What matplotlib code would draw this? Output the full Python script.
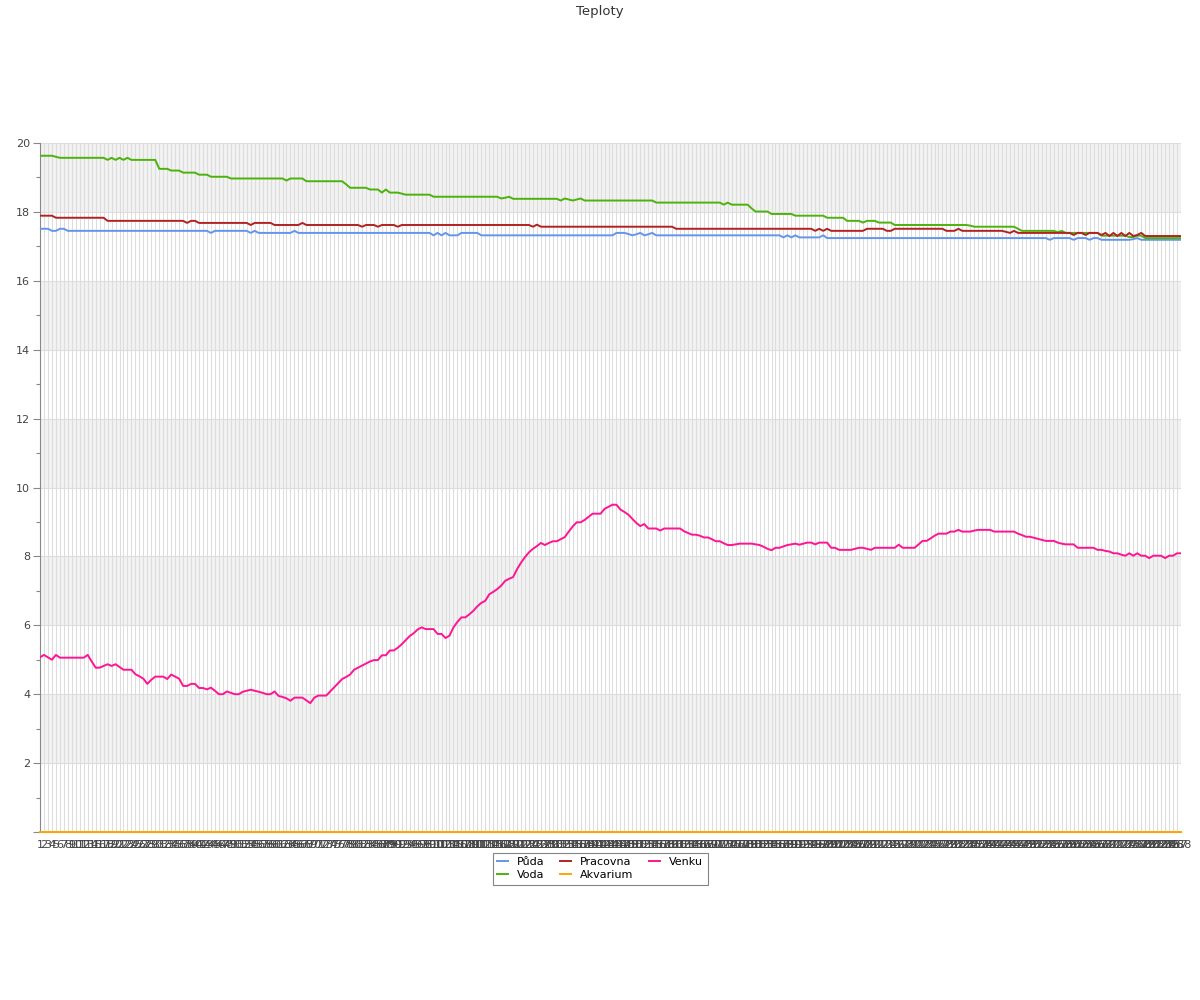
import numpy as np
import matplotlib.pyplot as plt

plt.rcParams['font.family'] = ['DejaVu Sans']

# poradi mereni 1..288
labels = [str(i) for i in range(1, 289)]

# Puda - hodnota a pocet opakovani
puda_vals = [17.51, 17.45, 17.51, 17.45, 17.39, 17.45, 17.39, 17.45, 17.39, 17.45, 17.39,
             17.32, 17.39, 17.32, 17.39, 17.32, 17.39, 17.32, 17.39, 17.36, 17.32, 17.35,
             17.39, 17.32, 17.35, 17.39, 17.32, 17.26, 17.32, 17.26, 17.32, 17.26, 17.32,
             17.24, 17.19, 17.24, 17.19, 17.24, 17.19, 17.24, 17.19, 17.21, 17.24, 17.19]
puda_runs = [3, 2, 2, 36, 1, 9, 1, 1, 9, 1, 34,
             1, 1, 1, 1, 3, 5, 34, 3, 1, 1, 1,
             1, 1, 1, 1, 32, 1, 1, 1, 1, 6, 1,
             56, 1, 5, 1, 3, 1, 2, 8, 1, 1, 11]

# Voda
voda_vals = [19.63, 19.6, 19.57, 19.51, 19.57, 19.51, 19.57, 19.51, 19.57, 19.51,
             19.25, 19.2, 19.14, 19.08, 19.02, 18.97, 18.91, 18.97, 18.89, 18.8,
             18.7, 18.65, 18.56, 18.65, 18.56, 18.53, 18.5, 18.44, 18.39, 18.41,
             18.44, 18.38, 18.33, 18.39, 18.36, 18.33, 18.36, 18.39, 18.33, 18.27,
             18.21, 18.27, 18.21, 18.1, 18.01, 17.94, 17.89, 17.83, 17.74, 17.69,
             17.74, 17.69, 17.62, 17.6, 17.57, 17.51, 17.45, 17.41, 17.45, 17.39,
             17.31, 17.27, 17.31, 17.24]
voda_runs = [4, 1, 12, 1, 1, 1, 1, 1, 1, 7,
             3, 3, 4, 3, 5, 14, 1, 4, 10, 1,
             5, 3, 1, 1, 3, 1, 7, 17, 1, 1,
             1, 12, 1, 1, 1, 1, 1, 1, 18, 17,
             1, 1, 5, 1, 4, 6, 8, 5, 4, 1,
             3, 4, 19, 1, 11, 1, 9, 1, 1, 9,
             7, 2, 2, 10]

# Pracovna
pracovna_vals = [17.89, 17.83, 17.74, 17.68, 17.74, 17.68, 17.62, 17.68, 17.62, 17.68,
                 17.62, 17.57, 17.62, 17.57, 17.62, 17.57, 17.62, 17.57, 17.63, 17.57,
                 17.51, 17.45, 17.51, 17.45, 17.51, 17.45, 17.51, 17.45, 17.51, 17.45,
                 17.51, 17.45, 17.42, 17.39, 17.45, 17.39, 17.33, 17.39, 17.33, 17.39,
                 17.33, 17.39, 17.3, 17.39, 17.3, 17.39, 17.3, 17.39, 17.3, 17.33,
                 17.39, 17.3]
pracovna_runs = [4, 13, 20, 1, 2, 13, 1, 5, 7, 1,
                 14, 1, 3, 1, 4, 1, 33, 1, 1, 34,
                 35, 1, 1, 1, 1, 9, 5, 2, 13, 3,
                 1, 11, 1, 1, 1, 14, 1, 2, 1, 3,
                 1, 1, 1, 1, 1, 1, 1, 1, 1, 1,
                 1, 10]

# Akvarium - cidlo posilalo nuly
akvarium = [0.0] * 288

# Venku
venku = [5.07, 5.14, 5.07, 5.0, 5.14, 5.06, 5.06, 5.06, 5.06, 5.06, 5.06, 5.06,
         5.14, 4.95, 4.77, 4.77, 4.82, 4.87, 4.82, 4.87, 4.79, 4.71, 4.71, 4.71,
         4.58, 4.52, 4.45, 4.3, 4.42, 4.51, 4.51, 4.51, 4.44, 4.57, 4.51, 4.45,
         4.24, 4.24, 4.3, 4.3, 4.18, 4.18, 4.14, 4.19, 4.1, 4.0, 4.0, 4.08,
         4.04, 4.0, 4.0, 4.07, 4.1, 4.13, 4.1, 4.07, 4.04, 4.0, 4.0, 4.08,
         3.95, 3.92, 3.88, 3.81, 3.9, 3.9, 3.9, 3.82, 3.74, 3.9, 3.96, 3.96,
         3.96, 4.08, 4.2, 4.32, 4.44, 4.5, 4.57, 4.71, 4.77, 4.83, 4.89, 4.95,
         4.99, 4.99, 5.13, 5.13, 5.27, 5.27, 5.35, 5.45, 5.57, 5.69, 5.77, 5.88,
         5.94, 5.89, 5.89, 5.89, 5.75, 5.75, 5.63, 5.7, 5.94, 6.1, 6.23, 6.23,
         6.32, 6.42, 6.55, 6.65, 6.71, 6.9, 6.97, 7.05, 7.15, 7.29, 7.35, 7.4,
         7.63, 7.82, 7.98, 8.12, 8.22, 8.3, 8.39, 8.33, 8.39, 8.44, 8.44, 8.5,
         8.56, 8.72, 8.87, 8.99, 8.99, 9.06, 9.15, 9.24, 9.24, 9.24, 9.38, 9.44,
         9.5, 9.5, 9.36, 9.29, 9.21, 9.09, 8.97, 8.88, 8.94, 8.81, 8.81, 8.81,
         8.75, 8.81, 8.81, 8.81, 8.81, 8.81, 8.73, 8.68, 8.63, 8.63, 8.6, 8.55,
         8.55, 8.5, 8.44, 8.44, 8.38, 8.33, 8.33, 8.35, 8.37, 8.37, 8.37, 8.37,
         8.35, 8.33, 8.28, 8.22, 8.18, 8.25, 8.25, 8.29, 8.33, 8.35, 8.37, 8.34,
         8.37, 8.4, 8.4, 8.35, 8.4, 8.4, 8.4, 8.25, 8.25, 8.19, 8.19, 8.19,
         8.19, 8.22, 8.25, 8.25, 8.22, 8.19, 8.25, 8.25, 8.25, 8.25, 8.25, 8.25,
         8.34, 8.25, 8.25, 8.25, 8.25, 8.35, 8.45, 8.45, 8.52, 8.6, 8.66, 8.66,
         8.66, 8.72, 8.72, 8.77, 8.72, 8.72, 8.72, 8.75, 8.77, 8.77, 8.77, 8.77,
         8.72, 8.72, 8.72, 8.72, 8.72, 8.72, 8.66, 8.62, 8.57, 8.57, 8.54, 8.51,
         8.48, 8.45, 8.45, 8.45, 8.4, 8.37, 8.35, 8.35, 8.35, 8.25, 8.25, 8.25,
         8.25, 8.25, 8.19, 8.19, 8.16, 8.14, 8.09, 8.09, 8.05, 8.02, 8.09, 8.02,
         8.09, 8.02, 8.02, 7.95, 8.02, 8.02, 8.02, 7.95, 8.02, 8.02, 8.09, 8.09]

puda = np.repeat(puda_vals, puda_runs)
voda = np.repeat(voda_vals, voda_runs)
pracovna = np.repeat(pracovna_vals, pracovna_runs)

x = np.arange(len(labels))

fig = plt.figure(figsize=(12, 10), dpi=100)
ax = fig.add_axes([40 / 1200, 1 - 832 / 1000, 1141 / 1200, 689 / 1000])

# sede pruhy a mrizka
for lo in range(2, 20, 4):
    ax.axhspan(lo, lo + 2, color='#f2f2f2', zorder=0, lw=0)
for yv in range(2, 21, 2):
    ax.axhline(yv, color='#dddddd', lw=0.8, zorder=0.5)
ax.vlines(x, 0, 20, color='#dddddd', lw=0.75, zorder=0.6)

ax.plot(x, puda, color='#6495ed', lw=1.4, label='Půda', zorder=3)
ax.plot(x, voda, color='#4cb20c', lw=1.4, label='Voda', zorder=3)
ax.plot(x, pracovna, color='#b22222', lw=1.4, label='Pracovna', zorder=3)
ax.plot(x, akvarium, color='#ffa500', lw=1.4, label='Akvarium', zorder=4, clip_on=False)
ax.plot(x, venku, color='#ff1493', lw=1.4, label='Venku', zorder=3)

ax.set_xlim(0, len(labels) - 1)
ax.set_ylim(0, 20)

ax.set_yticks(range(0, 21, 2))
ax.set_yticklabels([''] + [str(v) for v in range(2, 21, 2)])
ax.set_yticks(range(1, 20, 2), minor=True)
ax.tick_params(axis='y', which='major', length=5, width=0.8, color='#888888',
               labelsize=8, labelcolor='#444444', pad=2)
ax.tick_params(axis='y', which='minor', length=3, width=0.8, color='#888888')

ax.set_xticks(x)
ax.set_xticklabels(labels)
ax.tick_params(axis='x', length=0, labelsize=8, labelcolor='#444444', pad=6)

for s in ['top', 'right']:
    ax.spines[s].set_visible(False)
ax.spines['left'].set_color('#888888')
ax.spines['bottom'].set_color('#888888')
ax.spines['bottom'].set_zorder(2)

fig.text(0.5, 1 - 11 / 1000, 'Teploty', ha='center', va='center',
         fontsize=9.5, color='#333333')

leg = fig.legend(loc='upper center', bbox_to_anchor=(0.5, 1 - 847 / 1000), ncol=3,
                 fontsize=8, frameon=True, fancybox=False, handlelength=1.0,
                 columnspacing=1.4, handletextpad=0.8, borderpad=0.4,
                 labelspacing=0.3)
leg.get_frame().set_edgecolor('#666666')
leg.get_frame().set_linewidth(0.8)

plt.savefig('out.png', dpi=100)
